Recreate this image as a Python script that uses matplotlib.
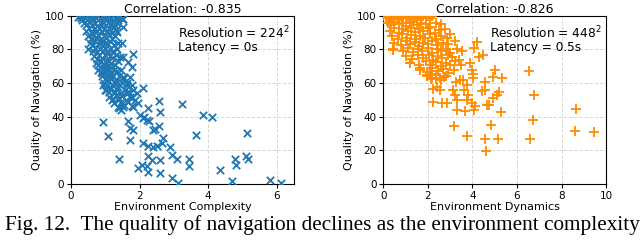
import matplotlib
matplotlib.use("Agg")
import matplotlib.pyplot as plt

# left panel: environment complexity vs quality (resolution 224^2, latency 0s)
cplx_x = [
    # dense band, top row
    0.2, 0.25, 0.3, 0.36, 0.42, 0.47, 0.52, 0.58, 0.63, 0.68, 0.73, 0.79, 0.84, 0.9, 0.95,
    1.0, 1.05, 1.1, 1.16, 1.22, 1.28, 1.34, 1.4, 1.48,
    0.32, 0.38, 0.46, 0.55, 0.61, 0.7, 0.77, 0.86, 0.93, 1.01, 1.08, 1.17, 1.26, 1.33,
    0.45, 0.53, 0.6, 0.67, 0.75, 0.82, 0.9, 0.97, 1.04, 1.12, 1.2, 1.3,
    0.5, 0.58, 0.65, 0.72, 0.8, 0.88, 0.95, 1.03, 1.11, 1.19, 1.28,
    0.56, 0.64, 0.7, 0.78, 0.86, 0.93, 1.0, 1.08, 1.15, 1.24, 1.37,
    0.5, 0.63, 0.7, 0.77, 0.85, 0.92, 1.0, 1.07, 1.14, 1.22, 1.33,
    0.68, 0.75, 0.83, 0.9, 0.98, 1.05, 1.13, 1.2, 1.3, 1.42,
    0.72, 0.8, 0.88, 0.95, 1.03, 1.1, 1.18, 1.27, 1.38,
    0.8, 0.87, 0.95, 1.02, 1.1, 1.18, 1.26, 1.35, 1.47,
    0.9, 0.98, 1.06, 1.14, 1.22, 1.3, 1.4, 1.55,
    0.96, 1.04, 1.12, 1.2, 1.28, 1.36, 1.48, 1.62,
    1.02, 1.1, 1.18, 1.27, 1.35, 1.45, 1.57, 1.7,
    1.12, 1.22, 1.3, 1.4, 1.5, 1.6, 1.72,
    1.25, 1.36, 1.45, 1.55, 1.65, 1.78, 1.4,
    # sparser points
    0.94, 1.09, 1.41, 1.72, 1.80, 2.11, 2.58, 2.60, 3.23, 3.86, 4.12, 3.65, 5.13,
    3.44, 3.44, 4.35, 4.78, 4.80, 5.10, 5.15, 4.69, 5.81, 6.12, 2.94, 3.13,
    2.89, 2.94, 3.08, 2.69, 2.65, 2.60, 2.60, 2.35, 2.26, 2.21, 2.26, 2.06, 1.94,
    2.40, 2.50, 2.11, 2.26, 2.40, 2.58, 2.46, 2.21, 2.11, 2.28, 2.14, 2.26, 2.01,
    1.82, 1.72, 1.67, 1.82, 1.96, 1.87, 1.77, 1.62, 1.92, 1.82, 1.77, 1.62, 1.53,
    1.72, 1.77, 1.67, 1.53, 1.48, 1.53, 1.53, 1.38, 1.28, 1.33, 1.45, 1.53, 1.38,
    1.24, 1.19, 0.99, 0.94, 0.89, 0.85, 1.14, 1.28, 1.43,
]
cplx_y = [
    99.5, 100, 99, 100, 98.5, 100, 99, 100, 98, 100, 99, 100, 98.5, 100, 99,
    100, 98, 100, 99, 100, 98.5, 100, 99.5, 98,
    97.5, 96, 95, 96.5, 94.5, 96, 94, 95.5, 96.5, 94.5, 96, 95, 93.5, 96,
    91, 92.5, 90, 92, 91, 93, 90.5, 92, 91, 93, 90, 91.5,
    88, 86.5, 89, 87, 88.5, 86, 88, 87, 89, 86.5, 88,
    84, 82.5, 85, 83, 84.5, 82, 84, 83, 85, 82.5, 84,
    80.5, 79, 81, 78.5, 80, 79, 81, 78, 80, 79, 80.5,
    76, 74.5, 77, 75, 76.5, 74, 76, 75, 77, 75.5,
    72, 70.5, 73, 71, 72.5, 70, 72, 71, 73,
    68, 66.5, 69, 67, 68.5, 66, 68, 67, 68,
    64, 62.5, 65, 63, 64.5, 62, 64, 63,
    60, 58.5, 61, 59, 60.5, 58, 60, 59,
    56, 54.5, 57, 55, 56.5, 54, 56, 55,
    52, 50.5, 53, 51, 52.5, 50, 52,
    48, 46, 49, 47, 48.5, 46.5, 45,
    36.8, 28.3, 14.8, 26.3, 77.3, 56.9, 49.4, 42.7, 47.4, 41.1, 40.1, 29.2, 30.4,
    14.8, 10.9, 8.5, 14.8, 11.1, 16.4, 15.0, 1.6, 2.6, 0.6, 3.6, 0.6,
    22.3, 17.4, 14.8, 27.3, 24.3, 14.4, 6.5, 14.4, 16.4, 10.5, 7.1, 11.5, 9.5,
    22.3, 22.9, 24.3, 22.9, 32.2, 34.8, 32.6, 38.1, 39.1, 37.7, 39.7, 45.1, 41.1,
    32.2, 33.2, 37.2, 46.0, 48.0, 50.0, 52.0, 54.0, 54.0, 55.9, 58.9, 59.9, 63.8,
    63.8, 69.8, 72.7, 75.7, 83.6, 93.5, 98.4, 97.4, 94.5, 90.5, 44.1, 46.0, 50.0,
    54.0, 50.0, 55.9, 58.9, 65.8, 69.8, 64.8, 59.9, 58.9,
]

# right panel: environment dynamics vs quality (resolution 448^2, latency 0.5s)
dyn_x = [
    0.0, 0.1, 0.2, 0.3, 0.4, 0.5, 0.6, 0.7, 0.8, 0.9, 1.0, 1.1, 1.2, 1.3, 1.4, 1.5,
    1.6, 1.7, 1.8, 1.9, 2.0, 2.1, 2.2,
    0.2, 0.35, 0.5, 0.7, 0.85, 1.0, 1.2, 1.35, 1.5, 1.7, 1.9, 2.1, 2.35, 2.6,
    0.3, 0.5, 0.7, 0.9, 1.1, 1.25, 1.4, 1.6, 1.8, 2.0, 2.3, 2.5, 2.75,
    0.4, 0.65, 0.85, 1.05, 1.25, 1.45, 1.65, 1.85, 2.1, 2.35, 2.6, 2.85, 3.0,
    0.5, 0.8, 1.0, 1.2, 1.4, 1.6, 1.8, 2.0, 2.2, 2.45, 2.7, 2.9, 3.2,
    0.45, 0.9, 1.1, 1.35, 1.55, 1.75, 2.0, 2.2, 2.4, 2.6, 2.8, 3.0, 3.3, 3.55,
    1.0, 1.3, 1.55, 1.8, 2.05, 2.25, 2.45, 2.65, 2.9, 3.1, 3.4,
    1.2, 1.6, 1.9, 2.1, 2.35, 2.6, 2.8, 3.0, 3.2, 3.5,
    1.65, 1.95, 2.2, 2.45, 2.7, 2.9, 3.15,
    1.95, 2.15, 2.35, 2.55, 2.8,
    # sparser points
    8.65, 8.61, 9.47, 6.56, 6.78, 6.74, 6.59, 5.27, 5.16, 4.82, 4.61, 4.57, 3.74, 3.17,
    5.02, 4.91, 5.32, 4.57, 4.42, 4.57, 5.2, 5.09, 4.94, 4.76, 4.64,
    4.19, 4.07, 4.46, 4.31, 3.89, 3.97, 4.04, 4.01,
    3.59, 3.74, 3.62, 3.82, 3.74, 3.97, 4.12, 4.07,
    3.29, 3.32, 3.22, 3.14, 3.25, 3.44, 3.67,
    2.25, 2.62, 2.87, 2.25, 2.4, 2.54, 2.18, 2.37, 2.58, 2.73,
    1.20, 0.45, 1.65, 1.95, 2.1,
]
dyn_y = [
    100, 99, 100, 98.5, 100, 99, 100, 98, 100, 99, 100, 98.5, 100, 99, 100, 98,
    100, 99, 100, 98.5, 100, 99, 100,
    96, 94.5, 96.5, 95, 96, 94, 95.5, 96.5, 94.5, 96, 95, 93.5, 96, 95,
    91, 92.5, 90, 92, 91, 93, 90.5, 92, 91, 93, 90, 91.5, 92,
    88, 86.5, 89, 87, 88.5, 86, 88, 87, 89, 86.5, 88, 87, 89,
    84, 82.5, 85, 83, 84.5, 82, 84, 83, 85, 82.5, 84, 83, 85,
    80.5, 79, 81, 78.5, 80, 79, 81, 78, 80, 79, 80.5, 78, 80, 79,
    76, 74.5, 77, 75, 76.5, 74, 76, 75, 77, 75.5, 74,
    72, 70.5, 73, 71, 72.5, 70, 72, 71, 73, 70.5,
    68, 66.5, 69, 67, 68.5, 66, 68,
    64, 62.5, 65, 63, 64,
    44.4, 31.7, 30.9, 67.3, 52.9, 38.0, 26.7, 42.6, 26.5, 35.1, 19.8, 26.7, 28.7, 34.8,
    67.7, 63.8, 63.2, 60.8, 55.5, 55.9, 54.9, 52.9, 50.9, 47.3, 47.3,
    84.6, 80.6, 76.7, 75.7, 71.7, 67.8, 65.4, 62.8,
    61.9, 58.9, 55.9, 53.0, 50.0, 48.0, 46.4, 44.1,
    44.1, 50.0, 53.0, 55.9, 60.9, 61.9, 43.5,
    49.0, 48.0, 48.0, 56.5, 57.5, 56.0, 63.0, 62.6, 62.0, 63.5,
    72.1, 79.6, 68.8, 64.8, 65.5,
]

BLUE = "#1f77b4"
ORANGE = "#ff8c00"

fig = plt.figure(figsize=(6.4, 2.4), dpi=100)
ax1 = fig.add_axes([0.111, 0.233, 0.348, 0.701])
ax2 = fig.add_axes([0.599, 0.233, 0.348, 0.701])

ax1.scatter(cplx_x, cplx_y, marker="x", s=28, c=BLUE, linewidths=1.3, zorder=3)
ax2.scatter(dyn_x, dyn_y, marker="+", s=42, c=ORANGE, linewidths=1.3, zorder=3)

panels = [
    (ax1, "Correlation: -0.835", "Environment Complexity", 6.5, [0, 2, 4, 6],
     "Resolution = 224$^2$\nLatency = 0s"),
    (ax2, "Correlation: -0.826", "Environment Dynamics", 10, [0, 2, 4, 6, 8, 10],
     "Resolution = 448$^2$\nLatency = 0.5s"),
]
for ax, title, xlab, xmax, xt, note in panels:
    ax.set_xlim(0, xmax)
    ax.set_ylim(0, 100)
    ax.set_xticks(xt)
    ax.set_yticks([0, 20, 40, 60, 80, 100])
    ax.grid(True, linestyle="--", color="#d8d8d8", linewidth=0.7, zorder=0)
    ax.set_axisbelow(True)
    ax.tick_params(labelsize=7.5, length=3, pad=2)
    ax.set_title(title, fontsize=9, pad=2)
    ax.set_xlabel(xlab, fontsize=8, labelpad=1)
    ax.set_ylabel("Quality of Navigation (%)", fontsize=8, labelpad=2)
    ax.text(0.48, 0.95, note, transform=ax.transAxes, fontsize=8.7,
            ha="left", va="top", linespacing=1.0)

fig.text(0.008, 0.04, "Fig. 12.  The quality of navigation declines as the environment complexity",
         family="Liberation Serif", fontsize=15.3, va="baseline", ha="left")

fig.savefig("out.png", dpi=100)
